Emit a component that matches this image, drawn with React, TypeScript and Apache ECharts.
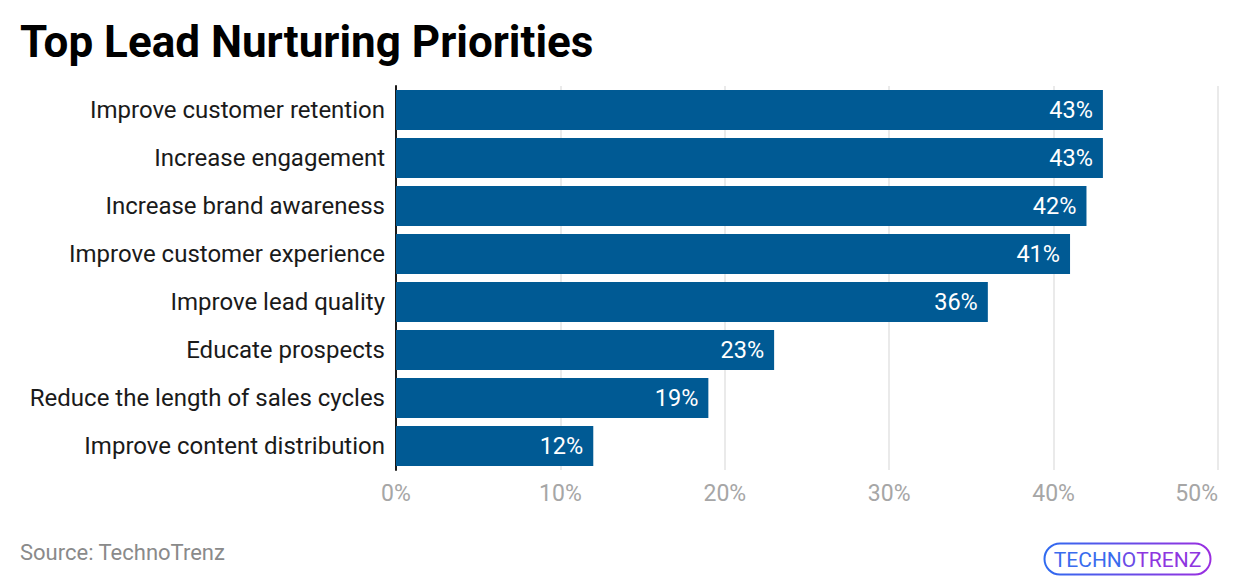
import React, { useEffect, useRef } from "react";
import * as echarts from "echarts";

const categories = [
  "Improve customer retention",
  "Increase engagement",
  "Increase brand awareness",
  "Improve customer experience",
  "Improve lead quality",
  "Educate prospects",
  "Reduce the length of sales cycles",
  "Improve content distribution",
];
const values = [43, 43, 42, 41, 36, 23, 19, 12];
const xTicks = [0, 10, 20, 30, 40, 50];
const titleText = "Top Lead Nurturing Priorities";
const sourceText = "Source: TechnoTrenz";

export default function App() {
  const ref = useRef<HTMLDivElement>(null);
  useEffect(() => {
    if (!ref.current) return;
    const chart = echarts.init(ref.current, null, { renderer: "svg" });
    const grad = new echarts.graphic.LinearGradient(0, 0, 1, 0, [
      { offset: 0, color: "#2f6bf0" },
      { offset: 1, color: "#9a2ee0" },
    ]);
    chart.setOption({
      animation: false,
      textStyle: { fontFamily: "Roboto" },
      grid: { left: 396, right: 22, top: 86, bottom: 118, containLabel: false },
      xAxis: {
        type: "value",
        min: xTicks[0],
        max: xTicks[xTicks.length - 1],
        interval: 10,
        axisLabel: {
          formatter: "{value}%",
          color: "#a6a6a6",
          fontSize: 23,
          margin: 12,
          alignMaxLabel: "right",
        },
        splitLine: { lineStyle: { color: "#e3e3e3", width: 1.5 } },
        axisLine: { show: false },
        axisTick: { show: false },
      },
      yAxis: {
        type: "category",
        data: categories,
        inverse: true,
        axisLine: { show: true, lineStyle: { color: "#1a1a1a", width: 2 } },
        axisTick: { show: false },
        axisLabel: { color: "#1a1a1a", fontSize: 24, margin: 11 },
      },
      series: [
        {
          type: "bar",
          data: values,
          barCategoryGap: "16.7%",
          itemStyle: { color: "#005a94" },
          label: {
            show: true,
            position: "insideRight",
            formatter: "{c}%",
            color: "#ffffff",
            fontSize: 23.5,
            distance: 10,
          },
        },
      ],
      graphic: [
        {
          type: "text",
          left: 20,
          top: 20,
          style: {
            text: titleText,
            font: "bold 44px Roboto",
            fill: "#000000",
          },
        },
        {
          type: "text",
          left: 20,
          top: 541,
          style: { text: sourceText, font: "22px Roboto", fill: "#8a8a8a" },
        },
        {
          type: "group",
          left: 1042,
          top: 541,
          children: [
            {
              type: "rect",
              shape: { x: 0, y: 0, width: 166, height: 31, r: 15.5 },
              style: { fill: "none", stroke: grad, lineWidth: 2 },
            },
            {
              type: "text",
              x: 83,
              y: 16,
              style: {
                text: "{a|TECHN}{b|O}{c|TRENZ}",
                align: "center",
                verticalAlign: "middle",
                rich: {
                  a: { font: "400 21px Roboto", fill: "#3a6cee" },
                  b: { font: "400 21px Roboto", fill: "#6a4ce6" },
                  c: { font: "400 21px Roboto", fill: "#8e36e0" },
                },
              },
            },
          ],
        },
      ],
    });
    return () => chart.dispose();
  }, []);
  return <div ref={ref} style={{ width: 1240, height: 588, position: "absolute", left: 0, top: 0 }} />;
}
